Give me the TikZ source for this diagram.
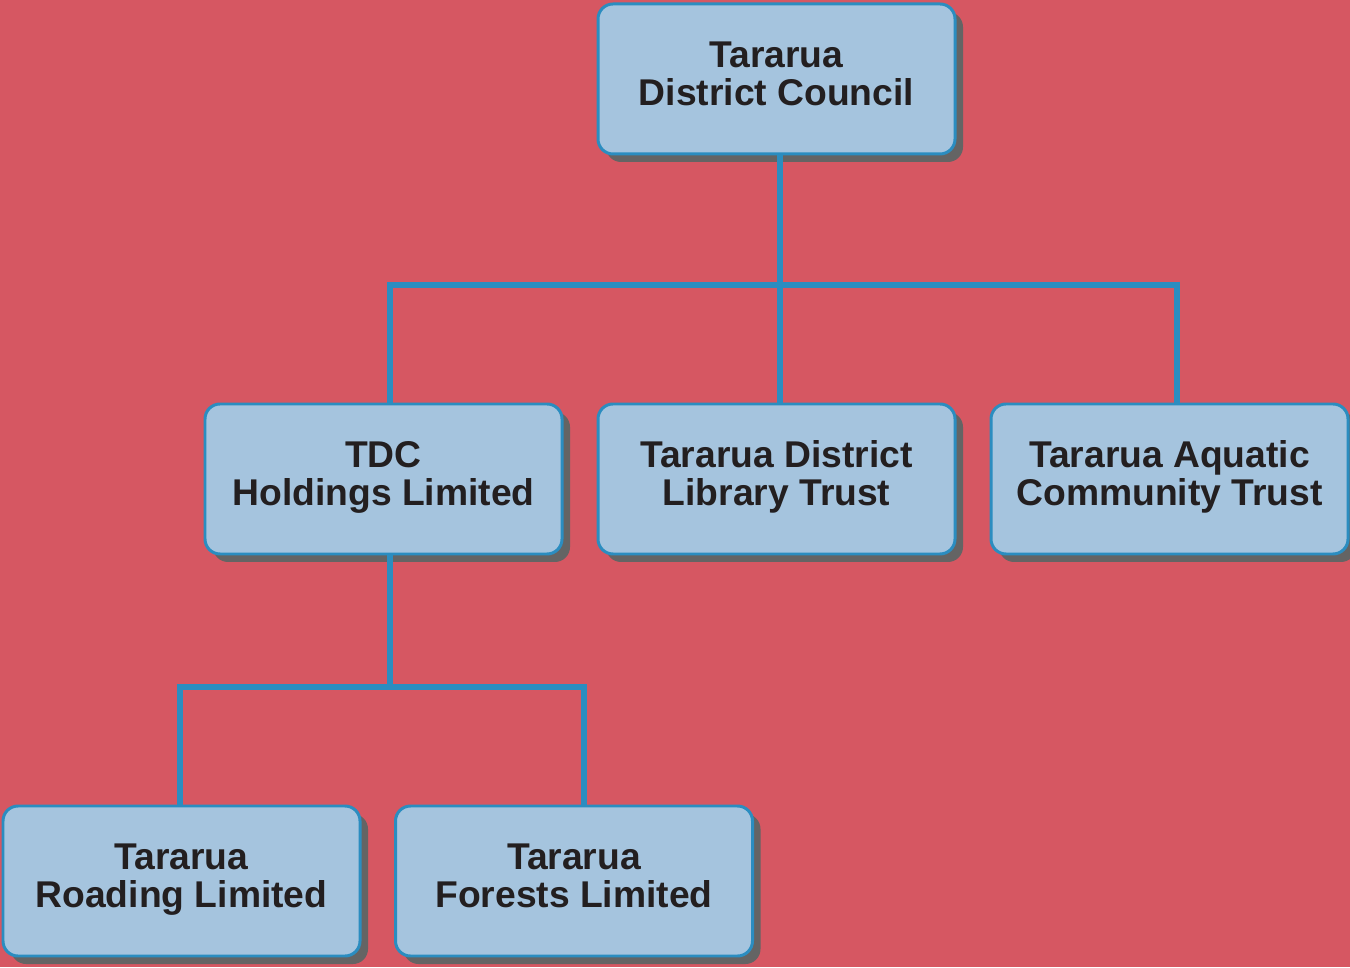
\documentclass[tikz,border=0pt]{standalone}
\usepackage{fontspec}
\setmainfont{Liberation Sans}
\usetikzlibrary{shadows}
\definecolor{backred}{HTML}{D65762}
\definecolor{boxblue}{HTML}{A5C4DE}
\definecolor{edgeblue}{HTML}{2B8DC0}
\definecolor{shade}{HTML}{646464}
\definecolor{ink}{HTML}{231F20}
\tikzstyle{link} = [draw=edgeblue, line width=3.4pt]

\begin{document}
\begin{tikzpicture}[
	every node/.style={transform shape},
	unit/.style={
		rectangle,
		rounded corners=3mm,
		minimum width=7.14cm,
		minimum height=3cm,
		line width=1.7pt,
		draw=edgeblue,
		fill=boxblue,
		text=ink,
		font=\bfseries\fontsize{21.2}{21.6}\selectfont,
		align=center,
		execute at begin node=\rule{0pt}{18.5pt},
		execute at end node=\strut,
		drop shadow={shadow xshift=0.16cm, shadow yshift=-0.16cm,
			fill=shade, opacity=1},
	}
]
	\fill[backred] (0,0) rectangle (27,19.34);
	\useasboundingbox (0,0) rectangle (27,19.34);

	\node (council) [unit] at (15.53,17.76)
		{Tararua \\District Council};
	\node (tdc) [unit] at (7.67,9.76)
		{TDC \\Holdings Limited};
	\node (library) [unit] at (15.53,9.76)
		{Tararua District \\Library Trust};
	\node (aquatic) [unit] at (23.39,9.76)
		{Tararua Aquatic \\Community Trust};
	\node (roading) [unit] at (3.63,1.72)
		{Tararua \\Roading Limited};
	\node (forests) [unit] at (11.48,1.72)
		{Tararua \\Forests Limited};

	\coordinate (bus1) at (15.6,13.64);
	\coordinate (bus2) at (7.8,5.6);

	\draw [link] ([xshift=0.07cm]council.south) -- ([xshift=0.07cm]library.north);
	\draw [link] ([xshift=0.13cm]tdc.north) |- (bus1)
		-| ([xshift=0.15cm]aquatic.north);
	\draw [link] ([xshift=0.13cm]tdc.south) -- (bus2);
	\draw [link] ([xshift=-0.03cm]roading.north) |- (bus2)
		-| ([xshift=0.2cm]forests.north);
\end{tikzpicture}
\end{document}
